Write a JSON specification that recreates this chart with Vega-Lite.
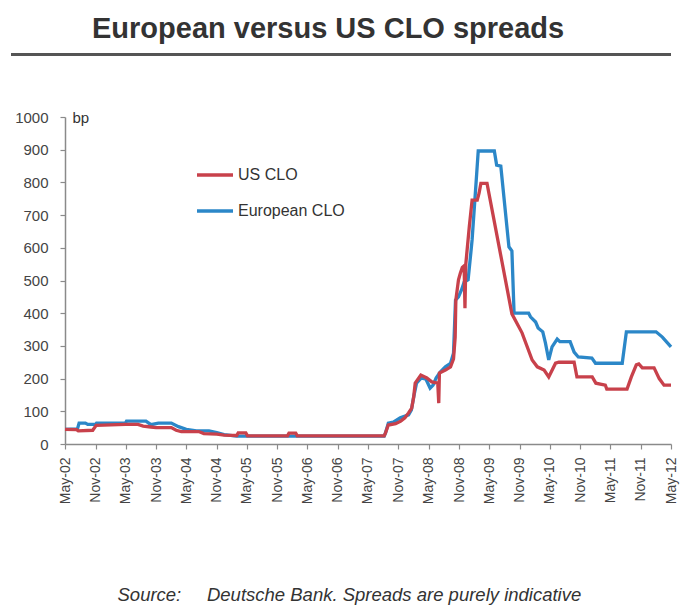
{
  "$schema": "https://vega.github.io/schema/vega-lite/v6.json",
  "autosize": "none",
  "width": 606,
  "height": 327,
  "padding": {"left": 65, "top": 117, "right": 10, "bottom": 164},
  "background": "white",
  "title": {"text": "European versus US CLO spreads", "anchor": "start", "frame": "group", "dx": 27, "offset": -13, "fontSize": 29, "font": "Liberation Sans", "fontWeight": "bold", "color": "#333333", "baseline": "alphabetic"},
  "config": {
    "view": {"stroke": null},
    "axis": {"grid": false, "domainColor": "#8a8a8a", "tickColor": "#8a8a8a", "labelColor": "#444444", "labelFont": "Liberation Sans", "titleFont": "Liberation Sans", "domainWidth": 1.5, "tickWidth": 1.2}
  },
  "data": {"values": [
    {"series": "European CLO", "date": "2002-05-01", "bp": 45},
    {"series": "European CLO", "date": "2002-07-15", "bp": 46},
    {"series": "European CLO", "date": "2002-07-25", "bp": 64},
    {"series": "European CLO", "date": "2002-09-01", "bp": 64},
    {"series": "European CLO", "date": "2002-09-15", "bp": 60},
    {"series": "European CLO", "date": "2002-11-01", "bp": 60},
    {"series": "European CLO", "date": "2002-11-07", "bp": 64},
    {"series": "European CLO", "date": "2003-05-01", "bp": 64},
    {"series": "European CLO", "date": "2003-05-07", "bp": 70},
    {"series": "European CLO", "date": "2003-09-01", "bp": 70},
    {"series": "European CLO", "date": "2003-10-01", "bp": 59},
    {"series": "European CLO", "date": "2003-11-15", "bp": 64},
    {"series": "European CLO", "date": "2004-02-01", "bp": 64},
    {"series": "European CLO", "date": "2004-03-15", "bp": 53},
    {"series": "European CLO", "date": "2004-05-01", "bp": 45},
    {"series": "European CLO", "date": "2004-07-01", "bp": 40},
    {"series": "European CLO", "date": "2004-09-15", "bp": 40},
    {"series": "European CLO", "date": "2004-11-01", "bp": 35},
    {"series": "European CLO", "date": "2004-12-15", "bp": 29},
    {"series": "European CLO", "date": "2005-03-01", "bp": 24},
    {"series": "European CLO", "date": "2007-08-07", "bp": 24},
    {"series": "European CLO", "date": "2007-08-15", "bp": 34},
    {"series": "European CLO", "date": "2007-09-01", "bp": 64},
    {"series": "European CLO", "date": "2007-10-01", "bp": 67},
    {"series": "European CLO", "date": "2007-11-12", "bp": 80},
    {"series": "European CLO", "date": "2008-01-01", "bp": 89},
    {"series": "European CLO", "date": "2008-01-18", "bp": 104},
    {"series": "European CLO", "date": "2008-02-01", "bp": 144},
    {"series": "European CLO", "date": "2008-02-18", "bp": 186},
    {"series": "European CLO", "date": "2008-03-18", "bp": 202},
    {"series": "European CLO", "date": "2008-04-15", "bp": 198},
    {"series": "European CLO", "date": "2008-05-10", "bp": 171},
    {"series": "European CLO", "date": "2008-05-28", "bp": 180},
    {"series": "European CLO", "date": "2008-06-15", "bp": 202},
    {"series": "European CLO", "date": "2008-07-10", "bp": 220},
    {"series": "European CLO", "date": "2008-08-10", "bp": 236},
    {"series": "European CLO", "date": "2008-09-10", "bp": 247},
    {"series": "European CLO", "date": "2008-09-28", "bp": 278},
    {"series": "European CLO", "date": "2008-10-10", "bp": 440},
    {"series": "European CLO", "date": "2008-10-28", "bp": 450},
    {"series": "European CLO", "date": "2008-11-15", "bp": 471},
    {"series": "European CLO", "date": "2008-12-01", "bp": 495},
    {"series": "European CLO", "date": "2008-12-25", "bp": 502},
    {"series": "European CLO", "date": "2009-01-12", "bp": 593},
    {"series": "European CLO", "date": "2009-01-18", "bp": 624},
    {"series": "European CLO", "date": "2009-02-12", "bp": 807},
    {"series": "European CLO", "date": "2009-02-24", "bp": 896},
    {"series": "European CLO", "date": "2009-06-01", "bp": 896},
    {"series": "European CLO", "date": "2009-06-15", "bp": 853},
    {"series": "European CLO", "date": "2009-07-10", "bp": 850},
    {"series": "European CLO", "date": "2009-08-28", "bp": 603},
    {"series": "European CLO", "date": "2009-09-15", "bp": 590},
    {"series": "European CLO", "date": "2009-09-28", "bp": 400},
    {"series": "European CLO", "date": "2009-12-25", "bp": 400},
    {"series": "European CLO", "date": "2010-01-05", "bp": 389},
    {"series": "European CLO", "date": "2010-02-05", "bp": 373},
    {"series": "European CLO", "date": "2010-02-20", "bp": 355},
    {"series": "European CLO", "date": "2010-03-20", "bp": 343},
    {"series": "European CLO", "date": "2010-04-05", "bp": 309},
    {"series": "European CLO", "date": "2010-04-25", "bp": 257},
    {"series": "European CLO", "date": "2010-05-15", "bp": 297},
    {"series": "European CLO", "date": "2010-06-15", "bp": 321},
    {"series": "European CLO", "date": "2010-07-01", "bp": 313},
    {"series": "European CLO", "date": "2010-09-01", "bp": 313},
    {"series": "European CLO", "date": "2010-09-25", "bp": 281},
    {"series": "European CLO", "date": "2010-10-20", "bp": 266},
    {"series": "European CLO", "date": "2011-01-10", "bp": 263},
    {"series": "European CLO", "date": "2011-02-01", "bp": 247},
    {"series": "European CLO", "date": "2011-07-12", "bp": 247},
    {"series": "European CLO", "date": "2011-08-06", "bp": 343},
    {"series": "European CLO", "date": "2012-02-01", "bp": 343},
    {"series": "European CLO", "date": "2012-03-10", "bp": 327},
    {"series": "European CLO", "date": "2012-05-01", "bp": 297},
    {"series": "US CLO", "date": "2002-05-01", "bp": 45},
    {"series": "US CLO", "date": "2002-07-10", "bp": 44},
    {"series": "US CLO", "date": "2002-07-20", "bp": 40},
    {"series": "US CLO", "date": "2002-10-15", "bp": 42},
    {"series": "US CLO", "date": "2002-11-05", "bp": 57},
    {"series": "US CLO", "date": "2003-05-01", "bp": 60},
    {"series": "US CLO", "date": "2003-07-15", "bp": 60},
    {"series": "US CLO", "date": "2003-08-15", "bp": 55},
    {"series": "US CLO", "date": "2003-10-01", "bp": 52},
    {"series": "US CLO", "date": "2003-11-01", "bp": 50},
    {"series": "US CLO", "date": "2004-02-01", "bp": 50},
    {"series": "US CLO", "date": "2004-03-01", "bp": 42},
    {"series": "US CLO", "date": "2004-04-01", "bp": 38},
    {"series": "US CLO", "date": "2004-07-15", "bp": 38},
    {"series": "US CLO", "date": "2004-08-15", "bp": 32},
    {"series": "US CLO", "date": "2004-11-01", "bp": 30},
    {"series": "US CLO", "date": "2004-12-15", "bp": 27},
    {"series": "US CLO", "date": "2005-03-01", "bp": 26},
    {"series": "US CLO", "date": "2005-03-10", "bp": 34},
    {"series": "US CLO", "date": "2005-04-25", "bp": 34},
    {"series": "US CLO", "date": "2005-05-05", "bp": 25},
    {"series": "US CLO", "date": "2006-01-01", "bp": 25},
    {"series": "US CLO", "date": "2006-01-10", "bp": 33},
    {"series": "US CLO", "date": "2006-02-20", "bp": 33},
    {"series": "US CLO", "date": "2006-03-01", "bp": 25},
    {"series": "US CLO", "date": "2007-08-07", "bp": 25},
    {"series": "US CLO", "date": "2007-08-15", "bp": 34},
    {"series": "US CLO", "date": "2007-09-01", "bp": 58},
    {"series": "US CLO", "date": "2007-10-15", "bp": 62},
    {"series": "US CLO", "date": "2007-11-15", "bp": 70},
    {"series": "US CLO", "date": "2007-12-10", "bp": 80},
    {"series": "US CLO", "date": "2008-01-01", "bp": 95},
    {"series": "US CLO", "date": "2008-01-20", "bp": 110},
    {"series": "US CLO", "date": "2008-02-01", "bp": 144},
    {"series": "US CLO", "date": "2008-02-10", "bp": 186},
    {"series": "US CLO", "date": "2008-03-15", "bp": 211},
    {"series": "US CLO", "date": "2008-04-20", "bp": 202},
    {"series": "US CLO", "date": "2008-05-20", "bp": 190},
    {"series": "US CLO", "date": "2008-06-25", "bp": 186},
    {"series": "US CLO", "date": "2008-07-01", "bp": 125},
    {"series": "US CLO", "date": "2008-07-05", "bp": 217},
    {"series": "US CLO", "date": "2008-08-10", "bp": 226},
    {"series": "US CLO", "date": "2008-09-10", "bp": 236},
    {"series": "US CLO", "date": "2008-09-28", "bp": 260},
    {"series": "US CLO", "date": "2008-10-08", "bp": 327},
    {"series": "US CLO", "date": "2008-10-12", "bp": 440},
    {"series": "US CLO", "date": "2008-10-28", "bp": 502},
    {"series": "US CLO", "date": "2008-11-08", "bp": 522},
    {"series": "US CLO", "date": "2008-11-20", "bp": 540},
    {"series": "US CLO", "date": "2008-12-01", "bp": 545},
    {"series": "US CLO", "date": "2008-12-06", "bp": 415},
    {"series": "US CLO", "date": "2008-12-11", "bp": 550},
    {"series": "US CLO", "date": "2009-01-01", "bp": 664},
    {"series": "US CLO", "date": "2009-01-18", "bp": 746},
    {"series": "US CLO", "date": "2009-02-18", "bp": 746},
    {"series": "US CLO", "date": "2009-03-01", "bp": 767},
    {"series": "US CLO", "date": "2009-03-12", "bp": 797},
    {"series": "US CLO", "date": "2009-04-18", "bp": 797},
    {"series": "US CLO", "date": "2009-09-15", "bp": 398},
    {"series": "US CLO", "date": "2009-11-15", "bp": 340},
    {"series": "US CLO", "date": "2010-01-15", "bp": 257},
    {"series": "US CLO", "date": "2010-02-15", "bp": 236},
    {"series": "US CLO", "date": "2010-03-28", "bp": 226},
    {"series": "US CLO", "date": "2010-04-25", "bp": 205},
    {"series": "US CLO", "date": "2010-06-05", "bp": 247},
    {"series": "US CLO", "date": "2010-06-25", "bp": 250},
    {"series": "US CLO", "date": "2010-09-25", "bp": 250},
    {"series": "US CLO", "date": "2010-10-12", "bp": 205},
    {"series": "US CLO", "date": "2011-01-12", "bp": 205},
    {"series": "US CLO", "date": "2011-02-03", "bp": 186},
    {"series": "US CLO", "date": "2011-04-01", "bp": 180},
    {"series": "US CLO", "date": "2011-04-10", "bp": 168},
    {"series": "US CLO", "date": "2011-08-10", "bp": 168},
    {"series": "US CLO", "date": "2011-09-05", "bp": 205},
    {"series": "US CLO", "date": "2011-10-05", "bp": 242},
    {"series": "US CLO", "date": "2011-10-20", "bp": 245},
    {"series": "US CLO", "date": "2011-11-10", "bp": 233},
    {"series": "US CLO", "date": "2012-01-20", "bp": 233},
    {"series": "US CLO", "date": "2012-02-20", "bp": 200},
    {"series": "US CLO", "date": "2012-03-20", "bp": 180},
    {"series": "US CLO", "date": "2012-05-01", "bp": 180}
  ]},
  "layer": [
    {
      "mark": {"type": "line", "strokeWidth": 3.3, "strokeJoin": "miter"},
      "encoding": {
        "x": {
          "field": "date", "type": "temporal",
          "scale": {"type": "utc", "domain": [{"year": 2002, "month": 5, "date": 1, "utc": true}, {"year": 2012, "month": 5, "date": 1, "utc": true}]},
          "axis": {
            "values": [
              {"year": 2002, "month": 5, "date": 1, "utc": true}, {"year": 2002, "month": 11, "date": 1, "utc": true},
              {"year": 2003, "month": 5, "date": 1, "utc": true}, {"year": 2003, "month": 11, "date": 1, "utc": true},
              {"year": 2004, "month": 5, "date": 1, "utc": true}, {"year": 2004, "month": 11, "date": 1, "utc": true},
              {"year": 2005, "month": 5, "date": 1, "utc": true}, {"year": 2005, "month": 11, "date": 1, "utc": true},
              {"year": 2006, "month": 5, "date": 1, "utc": true}, {"year": 2006, "month": 11, "date": 1, "utc": true},
              {"year": 2007, "month": 5, "date": 1, "utc": true}, {"year": 2007, "month": 11, "date": 1, "utc": true},
              {"year": 2008, "month": 5, "date": 1, "utc": true}, {"year": 2008, "month": 11, "date": 1, "utc": true},
              {"year": 2009, "month": 5, "date": 1, "utc": true}, {"year": 2009, "month": 11, "date": 1, "utc": true},
              {"year": 2010, "month": 5, "date": 1, "utc": true}, {"year": 2010, "month": 11, "date": 1, "utc": true},
              {"year": 2011, "month": 5, "date": 1, "utc": true}, {"year": 2011, "month": 11, "date": 1, "utc": true},
              {"year": 2012, "month": 5, "date": 1, "utc": true}
            ],
            "format": "%b-%y",
            "labelAngle": 270,
            "labelFontSize": 14,
            "labelPadding": 8,
            "tickSize": 5,
            "labelFlush": false,
            "labelOverlap": false,
            "title": "Source:\u00a0\u00a0\u00a0\u00a0\u00a0Deutsche Bank. Spreads are purely indicative",
            "titleFontStyle": "italic",
            "titleFontWeight": "normal",
            "titleFontSize": 18.5,
            "titleColor": "#333333",
            "titleAnchor": "start",
            "titleAlign": "left",
            "titleBaseline": "alphabetic",
            "titleX": 52,
            "titleY": 156
          }
        },
        "y": {
          "field": "bp", "type": "quantitative",
          "scale": {"domain": [0, 1000]},
          "axis": {
            "values": [0, 100, 200, 300, 400, 500, 600, 700, 800, 900, 1000],
            "format": "d",
            "labelFontSize": 15,
            "labelPadding": 12,
            "labelOverlap": false,
            "tickSize": 5,
            "labelFlush": false,
            "title": "bp",
            "titleAngle": 0,
            "titleAlign": "left",
            "titleBaseline": "alphabetic",
            "titleAnchor": "end",
            "titleX": 7,
            "titleY": 5,
            "titleFontSize": 15,
            "titleFontWeight": "normal",
            "titleColor": "#333333"
          }
        },
        "color": {
          "field": "series", "type": "nominal",
          "scale": {"domain": ["US CLO", "European CLO"], "range": ["#c8414b", "#2b87c8"]},
          "legend": {
            "orient": "none",
            "legendX": 130,
            "legendY": 38,
            "title": null,
            "symbolType": "stroke",
            "symbolSize": 1296,
            "symbolStrokeWidth": 3.5,
            "labelFontSize": 16,
            "labelFont": "Liberation Sans",
            "labelColor": "#333333",
            "labelOffset": 3,
            "rowPadding": 8
          }
        }
      }
    },
    {
      "mark": {"type": "rule", "color": "#555555", "strokeWidth": 2.5},
      "encoding": {
        "x": {
          "datum": {"year": 2001, "month": 6, "date": 10, "utc": true}, "type": "temporal",
          "axis": {
            "values": [
              {"year": 2002, "month": 5, "date": 1, "utc": true}, {"year": 2002, "month": 11, "date": 1, "utc": true},
              {"year": 2003, "month": 5, "date": 1, "utc": true}, {"year": 2003, "month": 11, "date": 1, "utc": true},
              {"year": 2004, "month": 5, "date": 1, "utc": true}, {"year": 2004, "month": 11, "date": 1, "utc": true},
              {"year": 2005, "month": 5, "date": 1, "utc": true}, {"year": 2005, "month": 11, "date": 1, "utc": true},
              {"year": 2006, "month": 5, "date": 1, "utc": true}, {"year": 2006, "month": 11, "date": 1, "utc": true},
              {"year": 2007, "month": 5, "date": 1, "utc": true}, {"year": 2007, "month": 11, "date": 1, "utc": true},
              {"year": 2008, "month": 5, "date": 1, "utc": true}, {"year": 2008, "month": 11, "date": 1, "utc": true},
              {"year": 2009, "month": 5, "date": 1, "utc": true}, {"year": 2009, "month": 11, "date": 1, "utc": true},
              {"year": 2010, "month": 5, "date": 1, "utc": true}, {"year": 2010, "month": 11, "date": 1, "utc": true},
              {"year": 2011, "month": 5, "date": 1, "utc": true}, {"year": 2011, "month": 11, "date": 1, "utc": true},
              {"year": 2012, "month": 5, "date": 1, "utc": true}
            ],
            "format": "%b-%y",
            "labelAngle": 270,
            "labelFontSize": 14,
            "labelPadding": 8,
            "tickSize": 5,
            "labelFlush": false,
            "labelOverlap": false,
            "title": "Source:\u00a0\u00a0\u00a0\u00a0\u00a0Deutsche Bank. Spreads are purely indicative",
            "titleFontStyle": "italic",
            "titleFontWeight": "normal",
            "titleFontSize": 18.5,
            "titleColor": "#333333",
            "titleAnchor": "start",
            "titleAlign": "left",
            "titleBaseline": "alphabetic",
            "titleX": 52,
            "titleY": 156
          }
        },
        "x2": {"datum": {"year": 2012, "month": 5, "date": 1, "utc": true}},
        "y": {
          "datum": 1190, "type": "quantitative",
          "axis": {
            "values": [0, 100, 200, 300, 400, 500, 600, 700, 800, 900, 1000],
            "format": "d",
            "labelFontSize": 15,
            "labelPadding": 12,
            "labelOverlap": false,
            "tickSize": 5,
            "labelFlush": false,
            "title": "bp",
            "titleAngle": 0,
            "titleAlign": "left",
            "titleBaseline": "alphabetic",
            "titleAnchor": "end",
            "titleX": 7,
            "titleY": 5,
            "titleFontSize": 15,
            "titleFontWeight": "normal",
            "titleColor": "#333333"
          }
        }
      }
    }
  ]
}
